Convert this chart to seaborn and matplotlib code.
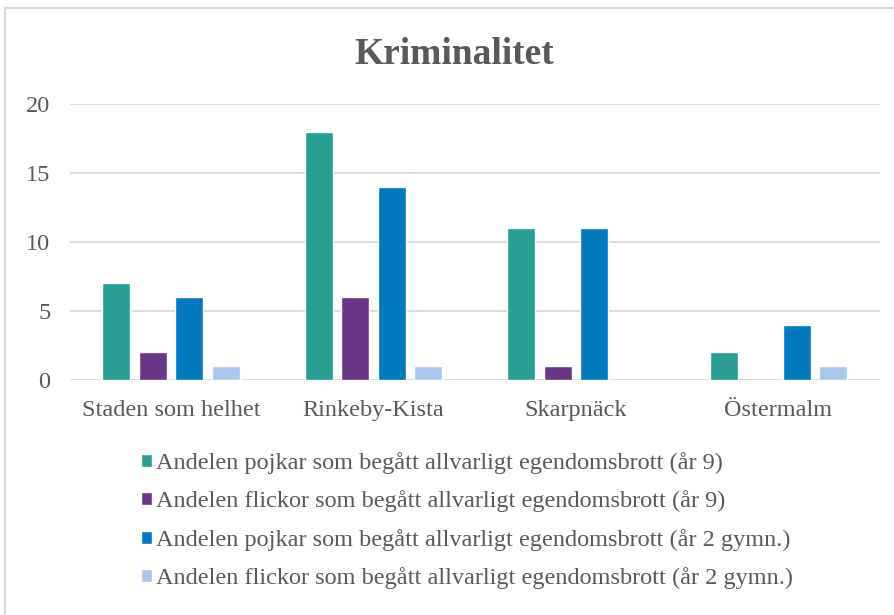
import matplotlib.pyplot as plt
import numpy as np
import pandas as pd
import seaborn as sns
from matplotlib.patches import Rectangle

# data
categories = ["Staden som helhet", "Rinkeby-Kista", "Skarpnäck", "Östermalm"]
series = [
    "Andelen pojkar som begått allvarligt egendomsbrott (år 9)",
    "Andelen flickor som begått allvarligt egendomsbrott (år 9)",
    "Andelen pojkar som begått allvarligt egendomsbrott (år 2 gymn.)",
    "Andelen flickor som begått allvarligt egendomsbrott (år 2 gymn.)",
]
pojkar_ar9 = [7, 18, 11, 2]
flickor_ar9 = [2, 6, 1, np.nan]
pojkar_gymn = [6, 14, 11, 4]
flickor_gymn = [1, 1, np.nan, 1]
yticks = [0, 5, 10, 15, 20]
colors = ["#299E92", "#6A3688", "#0079C1", "#AAC6EA"]

values = [pojkar_ar9, flickor_ar9, pojkar_gymn, flickor_gymn]
rows = []
for s, vals in zip(series, values):
    for c, v in zip(categories, vals):
        rows.append({"omrade": c, "serie": s, "andel": v})
df = pd.DataFrame(rows).dropna()

sns.set_style("white")
plt.rcParams["font.family"] = ["Liberation Serif", "DejaVu Serif"]
text_color = "#595959"
grid_color = "#D9D9D9"

fig = plt.figure(figsize=(8.95, 6.15), dpi=100)
ax = fig.add_axes([0.078, 0.382, 0.905, 0.449])

sns.barplot(
    data=df, x="omrade", y="andel", hue="serie",
    order=categories, hue_order=series,
    palette=dict(zip(series, colors)), saturation=1,
    width=0.72, gap=0.23, errorbar=None, ax=ax,
)

ax.set_ylim(0, 20)
ax.set_yticks(yticks)
ax.yaxis.grid(True, color=grid_color, linewidth=1.3)
ax.set_axisbelow(True)
for sp in ax.spines.values():
    sp.set_visible(False)
ax.set_xlabel("")
ax.set_ylabel("")
ax.tick_params(axis="both", length=0, labelsize=17.5, colors=text_color)
ax.tick_params(axis="x", pad=14)
ax.tick_params(axis="y", pad=14)

handles, labels = ax.get_legend_handles_labels()
ax.get_legend().remove()
fig.legend(
    handles, labels, loc="upper left", bbox_to_anchor=(0.147, 0.281),
    frameon=False, fontsize=17.5, labelcolor=text_color,
    handlelength=0.45, handleheight=0.45, handletextpad=0.17, labelspacing=0.68,
    borderaxespad=0,
)

fig.text(0.508, 0.912, "Kriminalitet", ha="center", va="center",
         fontsize=27, fontweight="bold", color=text_color)

# outer chart border
fig.patches.append(Rectangle((5 / 895, -0.01), 1.0, 1 - 8 / 615 + 0.01,
                             transform=fig.transFigure, fill=False,
                             edgecolor=grid_color, linewidth=1.5))

fig.savefig("out.png", dpi=100)
